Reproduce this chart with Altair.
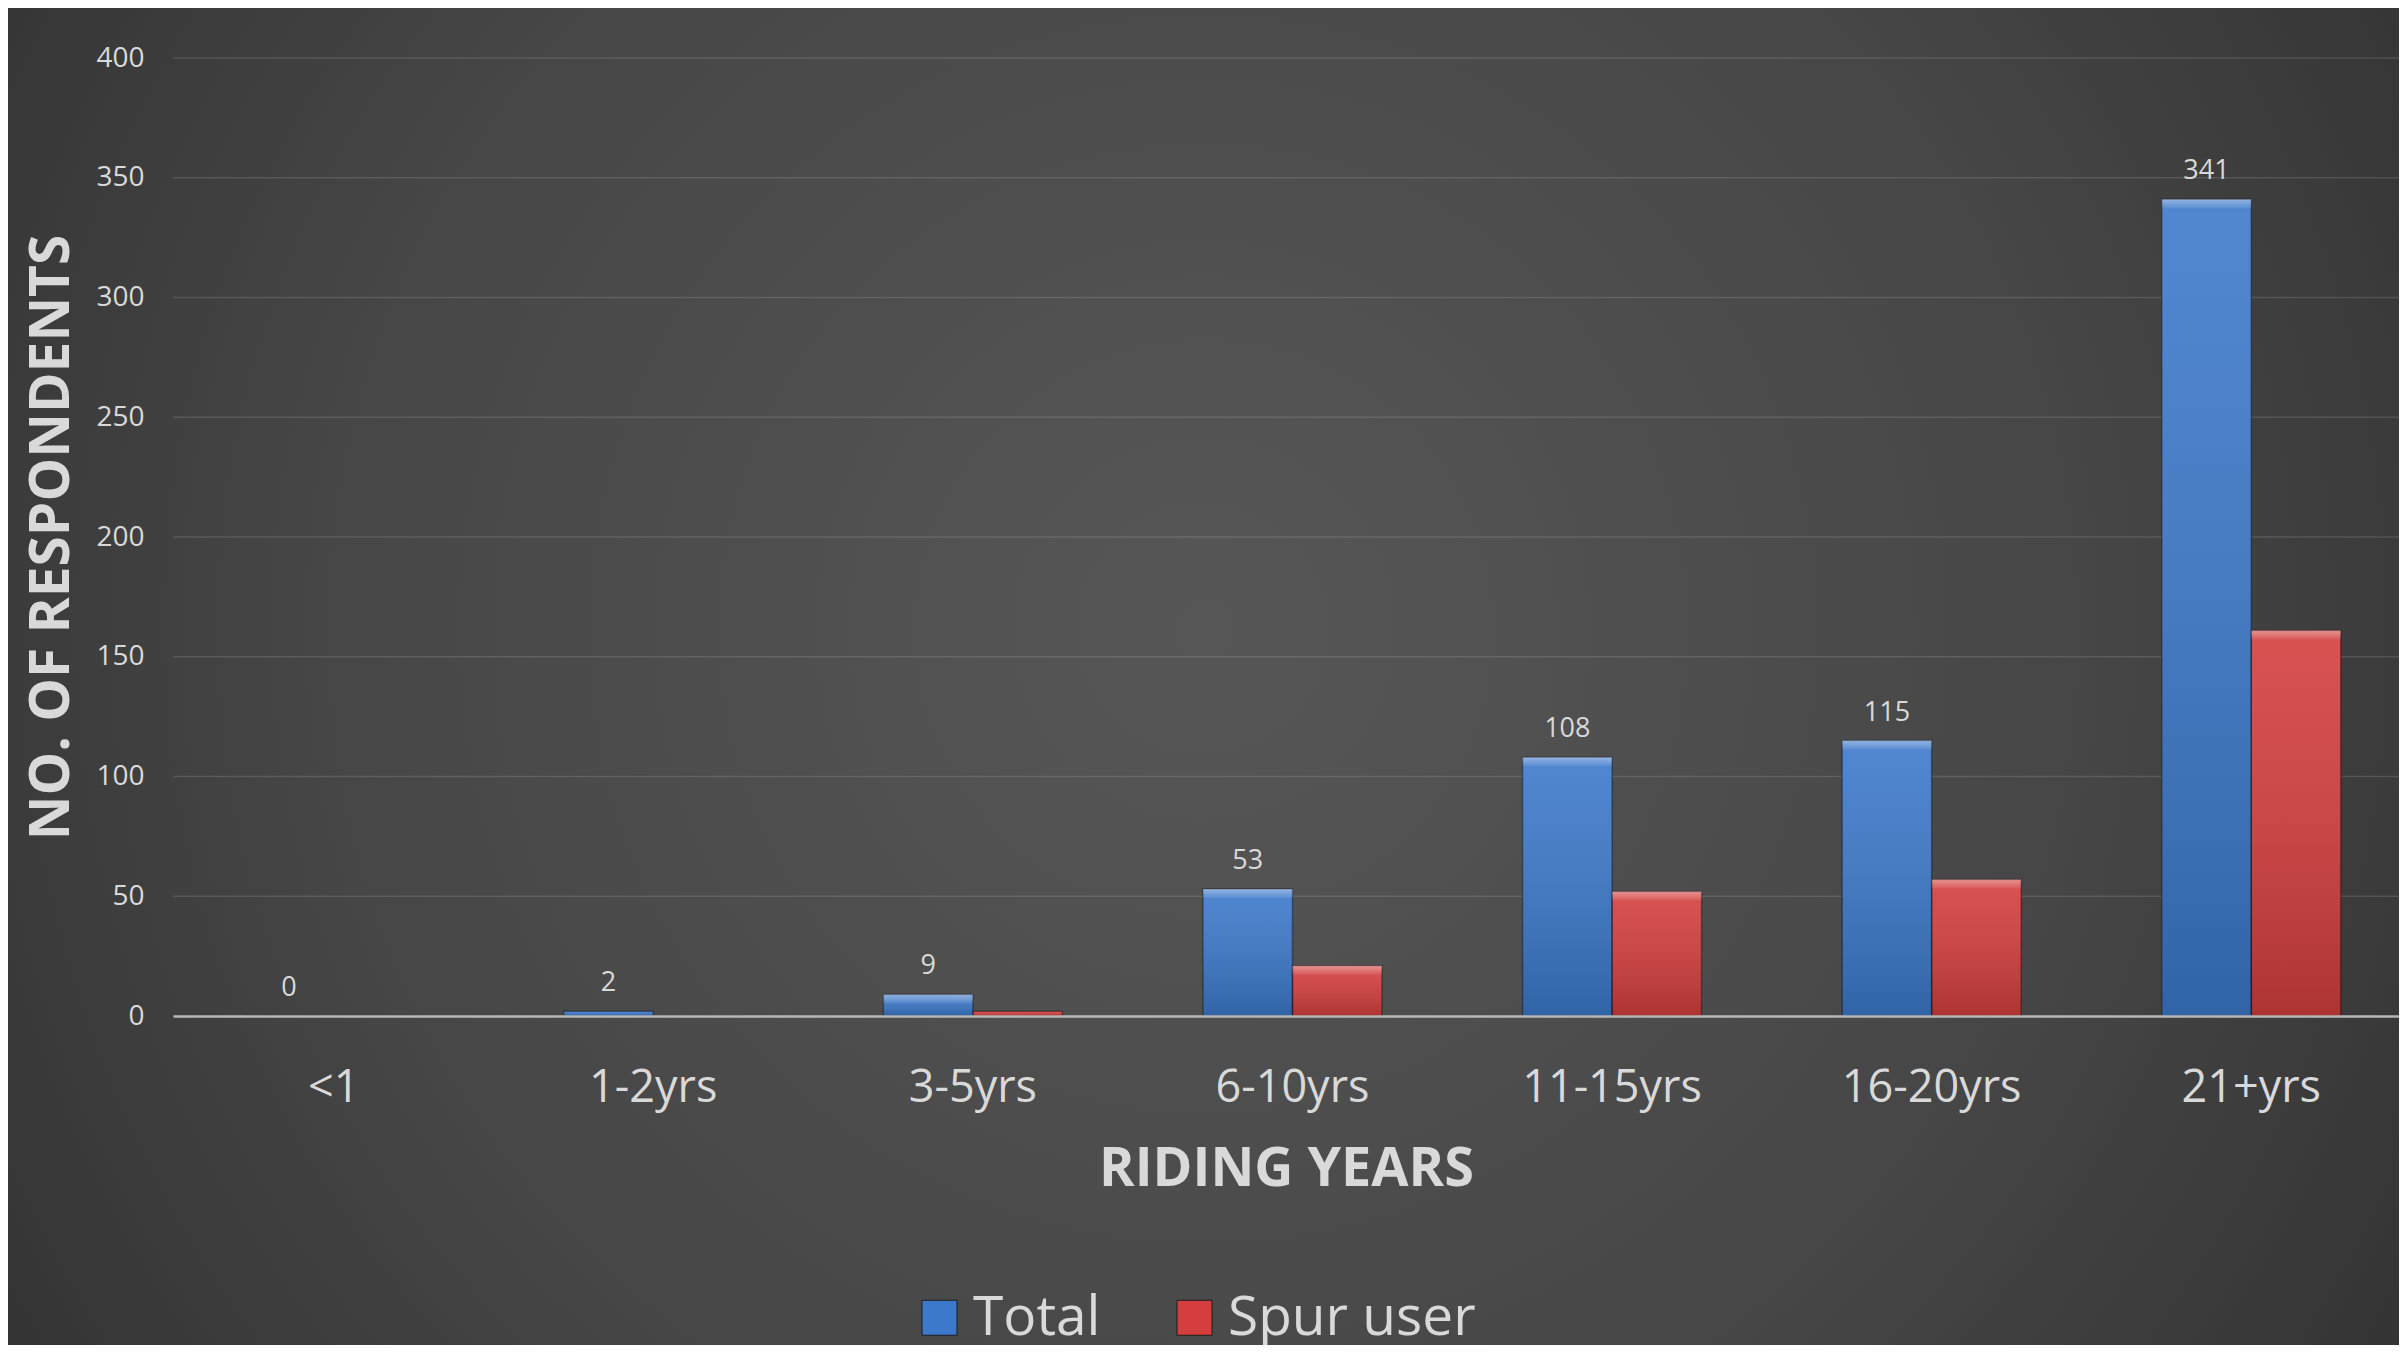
import altair as alt
import pandas as pd

# ---- data ----
categories = ["<1", "1-2yrs", "3-5yrs", "6-10yrs", "11-15yrs", "16-20yrs", "21+yrs"]
series_names = ["Total", "Spur user"]
total_values = [0, 2, 9, 53, 108, 115, 341]
spur_values = [0, 0, 2, 21, 52, 57, 161]
y_ticks = [0, 50, 100, 150, 200, 250, 300, 350, 400]
grid_values = [50, 100, 150, 200, 250, 300, 350, 400]
series_colors = ["#3c79cb", "#d43e3e"]

rows = []
for c, t, s in zip(categories, total_values, spur_values):
    rows.append({"cat": c, "series": "Total", "value": t})
    rows.append({"cat": c, "series": "Spur user", "value": s})
df = pd.DataFrame(rows)

W, H = 2226, 958
PAD_L, PAD_T, PAD_R, PAD_B = 165, 50, 0, 329

FONT = "Open Sans"
TXT = "#d9d9d9"

yscale = alt.Scale(domain=[0, 400], nice=False)
xscale = alt.Scale(paddingInner=0.44, paddingOuter=0.2025, align=0.55)
xoff_scale = alt.Scale(paddingInner=0, paddingOuter=0)

radial = alt.RadialGradient(
    gradient="radial",
    stops=[
        alt.GradientStop(offset=0, color="#575757"),
        alt.GradientStop(offset=0.5, color="#464646"),
        alt.GradientStop(offset=1, color="#272727"),
    ],
    x1=0.5, y1=0.48, x2=0.5, y2=0.48, r1=0, r2=0.74,
)

bg = alt.Chart(pd.DataFrame({"k": [0]})).mark_rect(fill=radial).encode(
    x=alt.value(-PAD_L), x2=alt.value(W + PAD_R),
    y=alt.value(-PAD_T), y2=alt.value(H + PAD_B),
)

y_axis = alt.Axis(
    values=y_ticks, grid=False, domain=False, ticks=False, tickSize=0,
    labelPadding=29, labelFont=FONT, labelFontSize=28, labelColor=TXT,
    title="NO. OF RESPONDENTS", titleFont=FONT, titleFontSize=55,
    titleFontWeight="bold", titleColor=TXT, titleAngle=270,
    titleX=-122, titleY=H / 2, titleAlign="center", titleBaseline="middle",
    titleLimit=1000, zindex=1,
)
y_enc = alt.Y("value:Q", scale=yscale, axis=y_axis, title="NO. OF RESPONDENTS")

grid = alt.Chart(pd.DataFrame({"value": grid_values})).mark_rule(
    color="rgba(255,255,255,0.12)", strokeWidth=1.5
).encode(
    y=y_enc,
    x=alt.value(0), x2=alt.value(W),
)

x_axis = alt.Axis(
    title="RIDING YEARS", labelAngle=0, labelFont=FONT, labelFontSize=45,
    labelColor=TXT, labelPadding=85, labelBaseline="alphabetic", labelLimit=500,
    ticks=False, tickSize=0, grid=False,
    domainColor="#b8b8b8", domainWidth=2.5,
    titleFont=FONT, titleFontSize=54, titleFontWeight="bold", titleColor=TXT,
    titleY=169, titleBaseline="alphabetic", zindex=1,
)
x_enc = alt.X("cat:N", sort=categories, scale=xscale, axis=x_axis, title="RIDING YEARS")
xoff_enc = alt.XOffset("series:N", sort=series_names, scale=xoff_scale)

bars = alt.Chart(df).mark_bar().encode(
    x=x_enc, xOffset=xoff_enc, y=y_enc,
    color=alt.Color(
        "series:N", sort=series_names,
        scale=alt.Scale(domain=series_names, range=series_colors),
        legend=alt.Legend(
            title=None, orient="none", legendX=739, legendY=1232,
            direction="horizontal", symbolType="square", symbolSize=1225,
            symbolStrokeColor="#1c1c1c", symbolStrokeWidth=1,
            labelFont=FONT, labelFontSize=55, labelColor=TXT,
            labelOffset=6, columnPadding=66, labelLimit=600,
        ),
    ),
)

shade_grad = alt.LinearGradient(
    gradient="linear",
    stops=[
        alt.GradientStop(offset=0, color="rgba(255,255,255,0.10)"),
        alt.GradientStop(offset=1, color="rgba(0,0,0,0.18)"),
    ],
    x1=0, y1=0, x2=0, y2=1,
)
shade = alt.Chart(df).mark_bar(
    fill=shade_grad, stroke="rgba(0,0,0,0.35)", strokeWidth=1.5
).encode(x=x_enc, xOffset=xoff_enc, y=y_enc)

# top bevel highlight (strip at the top of each bar)
bevel_grad = alt.LinearGradient(
    gradient="linear",
    stops=[
        alt.GradientStop(offset=0, color="rgba(255,255,255,0.38)"),
        alt.GradientStop(offset=1, color="rgba(255,255,255,0.06)"),
    ],
    x1=0, y1=0, x2=0, y2=1,
)
bevel = alt.Chart(df).transform_filter(alt.datum.value >= 5).mark_bar(
    fill=bevel_grad, y2Offset=9
).encode(x=x_enc, xOffset=xoff_enc, y=y_enc, y2=alt.Y2("value:Q"))

labels = alt.Chart(df).transform_filter(alt.datum.series == "Total").mark_text(
    font=FONT, fontSize=27, color=TXT, baseline="alphabetic", dy=-20
).encode(x=x_enc, xOffset=xoff_enc, y=y_enc, text="value:Q")

chart = alt.layer(bg, grid, bars, shade, bevel, labels).properties(
    width=W, height=H,
    autosize=alt.AutoSizeParams(type="none"),
    padding={"left": PAD_L, "top": PAD_T, "right": PAD_R, "bottom": PAD_B},
).configure(background="#333333", font=FONT).configure_view(stroke=None)

chart.save("out.html", embed_options={"renderer": "svg", "actions": False})
